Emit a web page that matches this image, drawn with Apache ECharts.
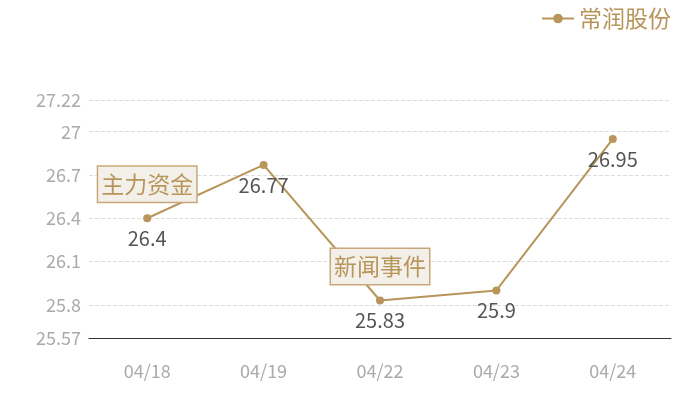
<!DOCTYPE html>
<html>
<head>
<meta charset="utf-8">
<script src="https://cdn.jsdelivr.net/npm/echarts@6/dist/echarts.min.js"></script>
<style>
html, body { margin: 0; padding: 0; background: #fff; }
#main { width: 700px; height: 400px; }
</style>
</head>
<body>
<div id="main"></div>
<script>
var days = ['04/18', '04/19', '04/22', '04/23', '04/24'];
var prices = [26.4, 26.77, 25.83, 25.9, 26.95];
var seriesName = '常润股份';
var yTicks = [25.57, 25.8, 26.1, 26.4, 26.7, 27, 27.22];
var eventNames = ['主力资金', '新闻事件'];
var eventDays = ['04/18', '04/22'];
var eventValues = [26.4, 25.83];

var gold = '#b8955a';
var myChart = echarts.init(document.getElementById('main'));

var marks = [];
for (var i = 0; i < eventNames.length; i++) {
	marks.push({
		name: eventNames[i],
		coord: [eventDays[i], eventValues[i]],
		value: eventNames[i]
	});
}

var option = {
	animation: false,
	textStyle: { fontFamily: 'Noto Sans CJK SC' },
	legend: {
		data: [seriesName],
		right: 24,
		top: 2,
		itemWidth: 32,
		itemHeight: 12,
		textStyle: { color: gold, fontSize: 23 }
	},
	grid: { left: 89, right: 29, top: 100, bottom: 62 },
	xAxis: {
		type: 'category',
		data: days,
		axisLine: { lineStyle: { color: '#333' } },
		axisTick: { show: false },
		axisLabel: { color: '#aaa', fontSize: 18, margin: 24 }
	},
	yAxis: {
		type: 'value',
		min: yTicks[0],
		max: yTicks[yTicks.length - 1],
		axisLine: { show: false },
		axisTick: { show: false, customValues: yTicks },
		axisLabel: { color: '#aaa', fontSize: 18, margin: 8, customValues: yTicks },
		splitLine: { lineStyle: { color: '#ddd', type: 'dashed' } }
	},
	series: [{
		name: seriesName,
		type: 'line',
		data: prices,
		symbol: 'circle',
		symbolSize: 8,
		itemStyle: { color: gold },
		lineStyle: { color: gold, width: 2 },
		label: {
			show: true,
			position: 'bottom',
			distance: 6,
			color: '#555',
			fontSize: 20
		},
		markPoint: {
			symbol: 'rect',
			symbolSize: 1,
			itemStyle: { color: 'rgba(0,0,0,0)' },
			label: {
				show: true,
				offset: [0, -34],
				formatter: '{b}',
				color: gold,
				fontSize: 23,
				lineHeight: 30,
				backgroundColor: '#f3efe9',
				borderColor: '#c8a878',
				borderWidth: 1.5,
				padding: [3, 3, 2, 3]
			},
			data: marks
		}
	}]
};
myChart.setOption(option);
</script>
</body>
</html>
